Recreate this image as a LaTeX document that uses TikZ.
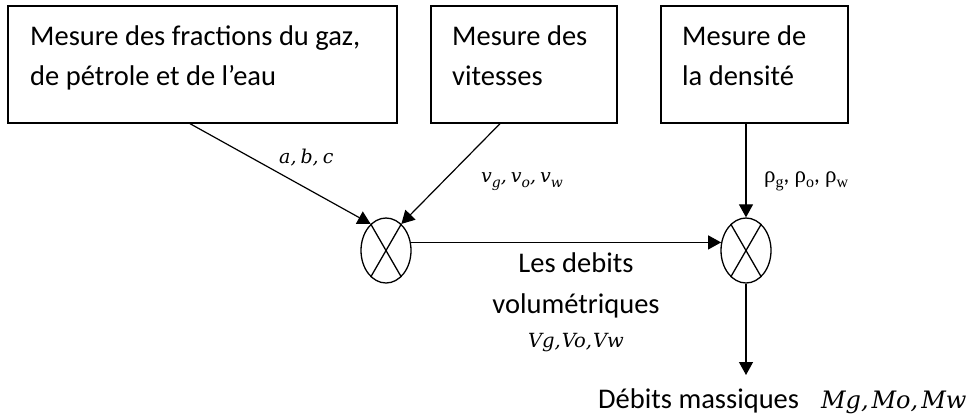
\documentclass[tikz,border=0pt]{standalone}
\usepackage{fontspec}
\setmainfont{Carlito}
\newfontfamily\greekf{Liberation Serif}
\newfontfamily\mathf{DejaVu Serif}
\usetikzlibrary{arrows.meta,shapes.geometric,calc}
\newcommand\rhosub[1]{{\greekf ρ}\raisebox{-0.22em}{\fontsize{16}{16}\selectfont\greekf #1}}
\newcommand\vsub[1]{v\raisebox{-0.28em}{\fontsize{14}{14}\selectfont #1}}
\begin{document}
\begin{tikzpicture}[x=1pt,y=-1pt,
  box/.style={draw, line width=1.3pt, minimum width=#1, minimum height=117pt, inner sep=0pt},
  boxtext/.style={anchor=north west, align=left, inner sep=0pt, font=\fontsize{28.5}{40}\selectfont},
  bigtext/.style={anchor=base, inner sep=0pt, font=\fontsize{28.5}{40}\selectfont},
  lab/.style={anchor=base west, inner sep=0pt, font=\mathf\itshape\fontsize{19}{19}\selectfont},
  mult/.style={draw, ellipse, line width=1.3pt, minimum width=50pt, minimum height=65pt, inner sep=0pt},
  cross/.style={line width=1.3pt},
  arr/.style={line width=1.2pt, -{Triangle[length=13pt,width=14pt]}}
]
\useasboundingbox (0,0) rectangle (973,416);

% boxes
\node[box=389pt] (b1) at (202.5,64.5) {};
\node[box=186pt] (b2) at (524,64.5) {};
\node[box=187pt] (b3) at (754.5,64.5) {};

\node[boxtext] (t1) at (30,17) {\strut Mesure des fractions du gaz,\\\strut de pétrole et de l’eau};
\node[boxtext] (t2) at (452,17) {\strut Mesure des\\\strut vitesses};
\node[boxtext] (t3) at (682,17) {\strut Mesure de\\\strut la densité};

% multipliers
\node[mult] (c1) at (386,250.5) {};
\node[mult] (c2) at (746,250.5) {};
\draw[cross] (c1.60) -- (c1.240) (c1.120) -- (c1.300);
\draw[cross] (c2.60) -- (c2.240) (c2.120) -- (c2.300);

% connectors
\draw[arr] ([xshift=-12.5pt]b1.south) -- (c1.120);
\draw[arr] ([xshift=-24pt]b2.south) -- (c1.60);
\draw[arr] ([xshift=-8.5pt]b3.south) -- (c2.north);
\draw[arr] (c1.18) -- (c2.162);
\coordinate (out) at (746,375);
\draw[arr] (c2.south) -- (out);

% labels
\node[lab] (l1) at (279,163) {a,\hspace{4pt}b,\hspace{4pt}c};
\node[lab] (l2) at (481,182) {\vsub{g},\hspace{4pt}\vsub{o},\hspace{4pt}\vsub{w}};
\node[lab, font=\fontsize{23}{23}\selectfont] (l3) at (764,182) {\rhosub{g}, \rhosub{o}, \rhosub{w}};

\node[bigtext] (d1) at (576,272) {Les debits};
\node[bigtext] (d2) at (576,313) {volumétriques};
\node[lab, anchor=base, font=\mathf\itshape\fontsize{19.5}{19.5}\selectfont] (d3) at (576,347) {Vg,\hspace{1pt}Vo,\hspace{1pt}Vw};

\node[anchor=base west, inner sep=0pt, font=\fontsize{28.5}{40}\selectfont] (dm) at (598,408)
  {Débits massiques\hspace{22pt}{\mathf\itshape\fontsize{24}{24}\selectfont Mg,\hspace{3pt}Mo,\hspace{3pt}Mw}};
\end{tikzpicture}
\end{document}
